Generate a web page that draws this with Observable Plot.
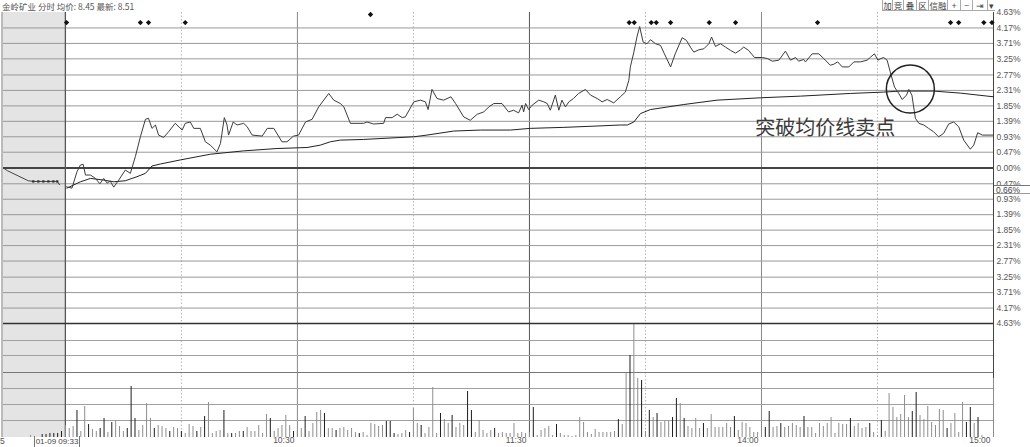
<!DOCTYPE html>
<html><head><meta charset="utf-8">
<script src="https://cdn.jsdelivr.net/npm/d3@7"></script>
<script src="https://cdn.jsdelivr.net/npm/@observablehq/plot@0.6"></script>
<style>
html,body{margin:0;padding:0;background:#fff;}
#wrap{position:relative;width:1030px;height:447px;overflow:hidden;background:#fff;font-family:"Liberation Sans",Arial,sans-serif;color:#555;}
#price{position:absolute;left:0;top:0;}
#vol{position:absolute;left:0;top:322px;}
.abs{position:absolute;white-space:nowrap;}
#title{left:2px;top:0px;font-size:8.5px;font-family:"Noto Sans CJK SC","Liberation Sans",sans-serif;color:#555;line-height:12px;}
.btn{position:absolute;top:0;height:11px;border:1px solid #aaa;border-top:none;border-right:none;font-size:8.5px;font-family:"Noto Sans CJK SC",sans-serif;line-height:11px;text-align:center;color:#444;background:#fff;box-sizing:border-box;}
#curT{left:34px;top:436px;width:46px;height:11px;border-left:1px solid #777;border-right:1px solid #777;font-size:8px;line-height:11px;text-align:center;color:#444;box-sizing:border-box;}
#curP{left:994px;top:185px;width:36px;height:9px;border-top:1px solid #777;border-bottom:1px solid #999;background:#fff;font-size:8.5px;line-height:8px;padding-left:2px;color:#444;box-sizing:border-box;}
#five{left:0px;top:436px;font-size:8.5px;line-height:11px;color:#555;}
</style></head><body>
<div id="wrap">
  <div id="price"></div>
  <div id="vol"></div>
  <div id="title" class="abs"></div>
  <div id="btns"></div>
  <div id="curT" class="abs"></div>
  <div id="curP" class="abs"></div>
  <div id="five" class="abs">5</div>
</div>
<script>
// ---------- data ----------
const titleText = "金岭矿业 分时 均价: 8.45 最新: 8.51";
const buttonLabels = ["加","竞","叠","区","信融","+","−","⇥","▾"];
const cursorTimeLabel = "01-09 09:33";
const cursorPctLabel = "0.66%";

// minutes since 09:30 (lunch break removed); negative = call auction
const preSession = [{start: -16, end: 0}];
const prePoints = [[-16,0.00],[-15,-0.08],[-9.6,-0.38],[-8.3,-0.40],[-7.0,-0.40],[-5.7,-0.40],[-4.4,-0.40],[-3.1,-0.40],[-2.1,-0.40],[-1.5,-0.50]];
const preMarkers = [-8.3,-7.0,-5.7,-4.4,-3.1,-2.1];

const pricePoints = [[0.3,-0.56],[1.7,-0.60],[3.0,-0.11],[3.9,0.09],[4.6,0.11],[5.2,-0.21],[6.5,-0.21],[7.8,-0.31],[8.9,-0.47],[9.9,-0.31],[10.8,-0.45],[11.6,-0.39],[12.5,-0.57],[13.8,-0.36],[15.5,-0.06],[16.8,-0.16],[18.1,0.34],[19.4,0.93],[20.7,1.45],[21.5,1.48],[22.4,1.18],[23.3,1.28],[24.1,0.98],[25.4,0.91],[26.7,1.08],[28.4,1.33],[30.2,1.13],[31.0,1.33],[32.3,1.37],[33.2,1.18],[34.9,1.18],[36.2,0.78],[37.5,0.68],[39.2,0.48],[40.1,0.73],[41.1,1.50],[41.8,1.28],[42.2,0.98],[43.4,1.37],[44.4,1.28],[46.1,1.33],[47.0,1.23],[48.3,0.98],[50.9,0.95],[52.2,1.18],[53.9,1.18],[56.0,0.78],[57.3,0.78],[59.0,0.95],[60.3,0.98],[62.1,1.37],[63.8,1.45],[65.5,1.82],[68.1,2.22],[69.4,2.02],[71.1,1.92],[72.0,1.82],[73.7,1.33],[77.1,1.33],[78.0,1.37],[79.7,1.31],[82.3,1.33],[82.8,1.50],[84.5,1.50],[85.8,1.60],[87.1,1.50],[87.9,1.52],[90.1,1.97],[91.8,2.02],[93.1,1.97],[93.8,1.74],[94.8,2.34],[96.1,2.07],[97.8,2.02],[99.7,2.12],[100.9,1.92],[103.0,1.52],[104.7,1.42],[106.5,1.60],[108.2,1.67],[109.5,1.82],[110.8,1.92],[112.9,1.92],[114.6,1.67],[115.9,1.72],[117.2,1.64],[118.1,1.87],[118.5,1.67],[119.0,1.92],[119.8,1.74],[120.7,1.87],[122.4,2.02],[123.7,1.97],[124.6,1.92],[125.4,1.72],[126.7,2.17],[127.6,1.72],[128.4,2.02],[129.3,1.82],[130.2,1.97],[131.4,2.07],[132.7,2.22],[134.5,2.34],[135.8,2.17],[137.5,2.07],[138.8,1.97],[140.1,2.04],[141.8,1.94],[143.5,2.12],[144.8,2.26],[145.7,2.61],[146.1,3.01],[147.0,3.45],[147.8,3.90],[148.5,4.21],[149.4,3.75],[150.4,3.70],[151.3,3.82],[152.6,3.70],[153.9,3.65],[154.9,3.40],[156.5,3.01],[157.7,3.40],[159.5,3.88],[160.6,3.80],[161.6,3.60],[162.5,3.45],[163.8,3.52],[165.1,3.55],[166.4,3.70],[167.1,3.90],[168.1,3.62],[169.4,3.70],[170.7,3.60],[172.0,3.50],[173.3,3.42],[174.6,3.52],[175.4,3.60],[176.7,3.50],[178.2,3.29],[180.2,3.29],[181.5,3.26],[182.8,3.18],[184.5,3.21],[186.2,3.48],[187.5,3.21],[188.8,3.29],[189.6,3.18],[190.9,3.23],[191.4,3.16],[193.1,3.40],[194.8,3.40],[196.1,3.26],[197.8,3.06],[198.7,3.09],[199.7,3.16],[200.9,3.01],[202.6,3.01],[203.9,3.16],[205.6,3.16],[207.3,3.21],[208.2,3.30],[209.2,3.40],[210.1,3.21],[210.9,3.26],[211.6,3.29],[212.5,3.21],[213.3,2.86],[214.4,2.41],[215.5,2.22],[216.4,2.04],[217.5,2.17],[218.1,2.34],[218.9,2.17],[219.8,1.48],[220.7,1.33],[222.0,1.28],[223.2,1.18],[224.5,1.08],[225.8,0.93],[227.1,1.03],[228.4,1.31],[229.7,1.37],[231.0,1.23],[232.3,0.83],[234.0,0.56],[234.9,0.68],[235.9,1.05],[237.1,0.98],[240,0.98]];

const avgPoints = [[0.4,-0.60],[3.9,-0.41],[6.5,-0.31],[9.9,-0.36],[12.5,-0.41],[15.5,-0.38],[18.5,-0.26],[20.7,-0.16],[22.4,0.06],[24.6,0.12],[29.7,0.24],[37.5,0.41],[46.1,0.51],[54.7,0.58],[62.5,0.61],[65.9,0.68],[68.5,0.78],[71.1,0.83],[77.1,0.85],[90.1,0.93],[93.5,0.98],[100.4,1.10],[107.3,1.13],[115.1,1.13],[120.2,1.18],[128.9,1.21],[137.5,1.25],[143.5,1.28],[145.3,1.28],[147.0,1.37],[148.7,1.62],[151.3,1.74],[159.9,1.89],[168.5,2.02],[179.7,2.09],[190.1,2.14],[203.0,2.22],[211.6,2.26],[215.9,2.29],[224.5,2.29],[231.4,2.23],[240,2.12]];

// [minute, volume, up(1)/down(0)]
const volumes = [[-9,2,0],[-6,3,1],[-5,3,1],[-4,4,1],[-3,4,1],[-2,4,1],[-1,6,1],
[0,12,0],[1,9,0],[2,11,0],[3,27,1],[4,6,0],[5,31,0],[6,13,1],[7,8,0],[8,6,0],[9,9,1],[10,19,1],[11,5,0],[12,15,1],[13,17,0],[14,11,0],[15,6,0],[16,9,1],[17,51,1],[18,19,1],[19,7,0],[20,12,0],[21,34,0],[22,19,0],[23,9,1],[24,12,0],[25,11,0],[26,9,0],[27,6,1],[28,10,0],[29,9,0],[30,6,1],[31,4,0],[32,13,0],[33,11,0],[34,6,1],[35,10,0],[36,21,1],[37,35,0],[38,4,0],[39,6,0],[40,7,0],[41,27,1],[42,4,0],[43,4,1],[44,4,0],[45,6,0],[46,6,1],[47,10,0],[48,6,0],[49,6,0],[50,12,0],[51,4,0],[52,23,0],[53,19,1],[54,6,0],[55,9,0],[56,12,0],[57,22,0],[58,12,0],[59,6,1],[60,6,0],[61,9,0],[62,21,1],[63,6,0],[64,14,0],[65,25,0],[66,27,0],[67,24,1],[68,9,0],[69,9,0],[70,7,1],[71,9,0],[72,10,0],[73,7,0],
[74,9,0],[75,5,0],[76,4,1],[77,5,0],[78,2,0],[79,14,0],[80,13,0],[81,11,0],[82,12,0],[83,16,1],[84,16,1],[85,4,1],[86,3,0],[87,4,0],[88,7,0],[89,5,1],[90,29,0],[91,14,0],[92,12,1],[93,4,0],[94,10,0],[95,50,0],[96,4,0],[97,24,1],[98,18,0],[99,14,0],[100,22,1],[101,10,0],[102,14,0],[103,12,0],[104,46,1],[105,27,1],[106,5,0],[107,17,0],[108,7,0],[109,4,0],[110,7,0],[111,9,1],[112,4,0],[113,5,0],[114,4,0],[115,4,0],[116,14,0],[117,4,0],[118,5,0],[119,4,0],[120,5,0],
[121,30,1],[122,2,0],[123,7,0],[124,9,0],[125,11,0],[126,2,0],[127,13,1],[128,4,0],[129,2,0],[130,2,0],[131,1,0],[132,2,0],[133,20,0],[134,15,0],[135,5,0],[136,3,0],[137,8,0],[138,5,0],[139,5,0],[140,5,0],[141,5,0],[142,6,0],[143,18,1],[144,13,0],[145,64,0],[146,82,1],[147,114,0],[148,59,0],[149,57,1],[150,6,0],[151,27,1],[152,20,0],[153,24,1],[154,15,0],[155,16,0],[156,16,0],[157,20,1],[158,39,1],[159,34,0],[160,19,1],[161,11,0],[162,9,0],[163,19,0],[164,9,0],[165,14,1],[166,9,0],[167,23,0],[168,10,0],[169,10,0],[170,10,0],[171,14,0],[172,10,0],[173,21,1],[174,7,0],[175,15,0],[176,14,0],[177,10,0],[178,5,0],[179,5,0],
[181,10,1],[182,26,1],[183,10,0],[184,11,0],[185,14,1],[186,10,0],[187,11,0],[188,14,0],[189,12,0],[190,10,0],[191,21,1],[192,10,0],[193,10,0],[194,4,0],[195,14,0],[196,11,0],[197,14,0],[198,20,0],[199,4,0],[200,14,0],[201,13,0],[202,13,0],[203,19,1],[204,11,0],[205,14,0],[206,9,0],[207,10,0],[208,14,1],[209,5,0],[210,2,0],[211,17,1],[212,6,0],[213,44,0],[214,30,0],[215,20,0],[216,23,0],[217,42,0],[218,20,0],[219,26,1],[220,45,1],[221,22,0],[222,18,0],[223,31,0],[224,15,0],[225,12,0],[226,28,0],[227,27,0],[228,9,1],[229,14,0],[230,24,0],[231,5,0],[232,35,0],[233,15,1],[234,30,1],[235,14,0],[236,20,1],[237,2,0],[240,59,0]];

const signalTimes = [0.3,19.4,21.5,31.0,78.9,145.8,147.1,151.5,152.8,156.5,166.5,173.3,194.5,228.9,231.0,237.5,239.6];
const signalLevels = [4.33,4.33,4.33,4.33,4.57,4.33,4.33,4.33,4.33,4.33,4.33,4.33,4.33,4.33,4.33,4.33,4.33];

const pctTicks = [4.63,4.17,3.71,3.25,2.77,2.31,1.85,1.39,0.93,0.47,0,-0.47,-0.93,-1.39,-1.85,-2.31,-2.77,-3.25,-3.71,-4.17,-4.63];
const pctLabels = ["4.63%","4.17%","3.71%","3.25%","2.77%","2.31%","1.85%","1.39%","0.93%","0.47%","0.00%","0.47%","0.93%","1.39%","1.85%","2.31%","2.77%","3.25%","3.71%","4.17%","4.63%"];
const volGrid = [17,33,49,65,82,97];
const volTop = 114;
const halfHourLines = [30,90,150,210];
const hourLines = [60,120,180];
const timeTicks = [60,120,180,240];
const timeLabels = ["10:30","11:30","14:00","15:00"];

const annotationText = "突破均价线卖点";
const annotationAt = [{t:178.4, p:1.16}];
const circleAt = [{t:218.5, p:2.35}];

// ---------- build ----------
const toObj = a => a.map(d => ({t:d[0], p:d[1]}));
const price = toObj(pricePoints), avg = toObj(avgPoints), pre = toObj(prePoints);
const preDots = preMarkers.map(t => ({t, p:-0.40}));
const vols = volumes.map(d => ({t:d[0], v:d[1], up:d[2]}));
const signals = signalTimes.map((t,i) => ({t, p:signalLevels[i]}));
const ticks = pctTicks.map((p,i) => ({p, label:pctLabels[i]}));
const tLabels = timeTicks.map((t,i) => ({t, label:timeLabels[i]}));

const font = "Liberation Sans, Arial, sans-serif";
const cjk = "Noto Sans CJK SC, sans-serif";

const pricePlot = Plot.plot({
  width:1030, height:326,
  marginLeft:3, marginRight:37, marginTop:12, marginBottom:3,
  x:{domain:[-16,240], axis:null},
  y:{domain:[-4.63,4.63], axis:null},
  style:{background:"transparent", fontFamily:font, overflow:"visible"},
  marks:[
    Plot.rect(preSession, {x1:"start", x2:"end", fill:"#e4e4e4"}),
    Plot.ruleX(halfHourLines, {stroke:"#b5b5b5", strokeDasharray:"1.5,2"}),
    Plot.ruleX(hourLines, {stroke: d => d === 120 ? "#555" : "#888"}),
    Plot.ruleY(ticks.slice(1, -1), {y:"p", stroke: d => d.p === 0 ? "#444" : "#999", strokeWidth: d => d.p === 0 ? 2 : 1}),
    Plot.ruleX([0], {stroke:"#555", strokeWidth:1.3}),
    Plot.ruleX([-16], {stroke:"#777", dx:-1.5}),
    Plot.ruleX([240], {stroke:"#444"}),
    Plot.line(pre, {x:"t", y:"p", stroke:"#444", strokeWidth:1}),
    Plot.dot(preDots, {x:"t", y:"p", symbol:"square", r:1.3, fill:"#333"}),
    Plot.line(avg, {x:"t", y:"p", stroke:"#222", strokeWidth:1}),
    Plot.line(price, {x:"t", y:"p", stroke:"#3c3c3c", strokeWidth:1}),
    Plot.dot(signals, {x:"t", y:"p", symbol:"diamond2", r:2.4, fill:"#111"}),
    Plot.dot(circleAt, {x:"t", y:"p", r:24, stroke:"#222", strokeWidth:1.5, fill:"none"}),
    Plot.text(annotationAt, {x:"t", y:"p", text:() => annotationText, textAnchor:"start", fontSize:20, fill:"#3a3a3a", fontFamily:cjk}),
    Plot.text(ticks, {x:() => 240, y:"p", text:"label", textAnchor:"start", dx:3, fontSize:8.5, fill:"#555"})
  ]
});
document.getElementById("price").appendChild(pricePlot);

const volPlot = Plot.plot({
  width:1030, height:125,
  marginLeft:3, marginRight:37, marginTop:1, marginBottom:10,
  x:{domain:[-16,240], axis:null},
  y:{domain:[0,volTop], axis:null},
  style:{background:"transparent", fontFamily:font, overflow:"visible"},
  marks:[
    Plot.rect(preSession, {x1:"start", x2:"end", fill:"#e4e4e4"}),
    Plot.ruleX(halfHourLines, {stroke:"#b5b5b5", strokeDasharray:"1.5,2"}),
    Plot.ruleX(hourLines, {stroke: d => d === 120 ? "#555" : "#888"}),
    Plot.ruleY(volGrid, {stroke: d => d === 65 ? "#777" : "#a0a0a0"}),
    Plot.ruleX([0], {stroke:"#555", strokeWidth:1.3}),
    Plot.ruleX([-16], {stroke:"#777", dx:-1.5}),
    Plot.ruleX([240], {stroke:"#444"}),
    Plot.ruleX(vols, {x:"t", y1:() => 0, y2:"v", stroke: d => d.up ? "#1e1e1e" : "#8e8e8e", strokeWidth:1}),
    Plot.ruleY([volTop], {stroke:"#333", strokeWidth:1.5}),
    Plot.text(tLabels, {x:"t", frameAnchor:"bottom", dy:5, dx:-3, text:"label", textAnchor:"end", fontSize:8.5, fill:"#555"})
  ]
});
document.getElementById("vol").appendChild(volPlot);

document.getElementById("title").textContent = titleText;
document.getElementById("curT").textContent = cursorTimeLabel;
document.getElementById("curP").textContent = cursorPctLabel;

const btnWidths = [10,11,13,12,19,13,12,15,8];
let bx = 882;
const btns = document.getElementById("btns");
buttonLabels.forEach((b,i) => {
  const d = document.createElement("div");
  d.className = "btn";
  d.style.left = bx + "px";
  d.style.width = btnWidths[i] + "px";
  d.textContent = b;
  btns.appendChild(d);
  bx += btnWidths[i];
});
</script>
</body></html>
